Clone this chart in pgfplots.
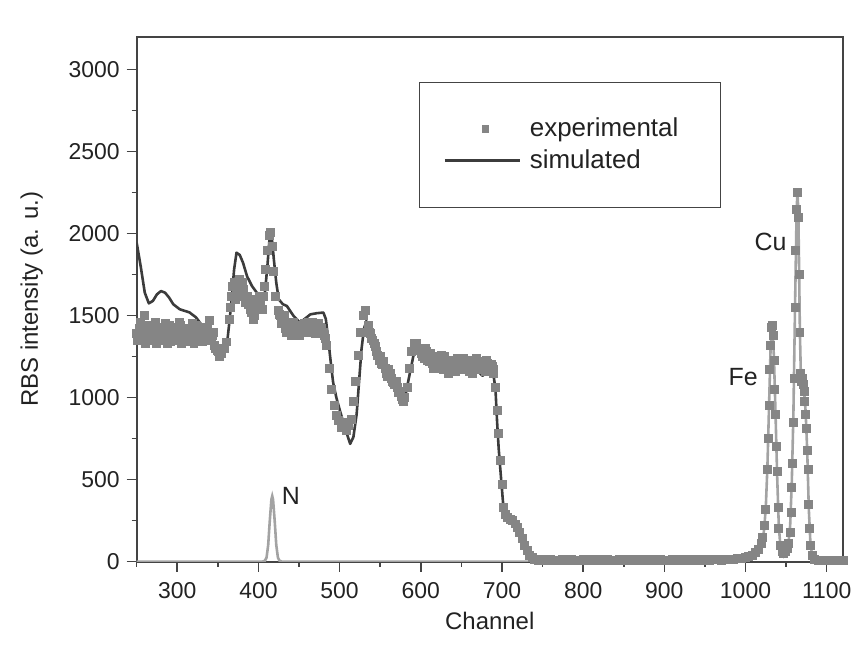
\documentclass[border=0pt]{standalone}
\usepackage{fontspec}
\setmainfont{Liberation Sans}
\usepackage{pgfplots}
\pgfplotsset{compat=1.18}
\definecolor{expc}{HTML}{858585}
\definecolor{simc}{HTML}{3C3C3C}
\definecolor{partc}{HTML}{A3A3A3}
\definecolor{framec}{HTML}{444444}
\definecolor{textc}{HTML}{222222}
\pgfplotsset{
  explegend/.style={legend image code/.code={\draw[##1, mark size=1.6pt] plot coordinates {(20.5pt,0pt)};}},
  simlegend/.style={legend image code/.code={\draw[##1] (0pt,0pt) -- (37.5pt,0pt);}},
}
\begin{document}
\begin{tikzpicture}
\begin{axis}[name=ax, width=354pt, height=263pt, scale only axis,
 xmin=250, xmax=1120, ymin=0, ymax=3200,
 xtick={300,400,...,1100}, minor xtick={250,350,...,1050},
 ytick={0,500,...,3000}, minor ytick={250,750,...,2750},
 tick align=outside, xtick pos=bottom, ytick pos=left,
 major tick length=5pt, minor tick length=2.5pt,
 axis line style={framec, line width=0.9pt},
 every tick/.style={framec, line width=0.8pt},
 tick label style={font=\fontsize{11.5}{13}\selectfont, text=textc},
 xticklabel shift=2pt,
 /pgf/number format/assume math mode=true, /pgf/number format/1000 sep={},
 xlabel={Channel}, ylabel={RBS intensity (a. u.)},
 label style={font=\fontsize{12}{14}\selectfont, text=textc},
 xlabel shift=0pt, ylabel shift=6pt,
 legend cell align=left,
 legend style={at={(rel axis cs:0.40,0.915)}, anchor=north west, draw=framec, fill=white,
   font=\fontsize{13}{15}\selectfont, text=textc, inner xsep=12pt, inner ysep=16.5pt, row sep=2pt,
   nodes={inner sep=1.5pt},
   /tikz/every odd column/.append style={column sep=3pt},
   /tikz/every even column/.append style={text width=82pt}},
]
\addplot[partc, line width=1.3pt, forget plot] coordinates {
(250,0) (405,0) (408,5) (410,25) (412,100) (414,250) (416,380) (417,400) (418,380) (420,250) (422,100) (424,25) (426,5) (429,0)
(980,0) (990,5) (1000,12) (1008,25) (1014,45) (1018,75) (1021,120) (1023,200) (1025,330) (1027,580) (1029,950) (1031,1320) (1033,1440) (1035,1250) (1037,900) (1039,520) (1041,220) (1043,90) (1045,40) (1047,30) (1049,40) (1051,70) (1053,120) (1055,220) (1057,480) (1059,900) (1061,1550) (1063,2150) (1064,2250) (1065,2150) (1066,1800) (1067,1400) (1068,1180) (1070,1100) (1072,1050) (1074,920) (1076,680) (1078,320) (1080,110) (1082,40) (1085,10) (1090,0) (1120,0)
};
\addplot[only marks, mark=square*, mark size=2pt, expc, mark options={draw=expc, fill=expc}, explegend] coordinates {
(250,1390) (253,1420) (256,1370) (259,1500) (262,1400) (265,1350) (268,1440) (271,1380) (274,1330) (277,1420)
(280,1400) (283,1360) (286,1450) (289,1390) (292,1340) (295,1410) (298,1430) (301,1370) (304,1440) (307,1400)
(310,1340) (313,1420) (316,1380) (319,1450) (322,1400) (325,1350) (328,1410) (331,1340) (334,1390) (337,1430)
(340,1470) (343,1380) (346,1320) (349,1290) (352,1250) (355,1270) (358,1300) (361,1340) (364,1480) (367,1620)
(370,1700) (373,1650) (376,1720) (379,1620) (382,1660) (385,1600) (388,1570) (391,1520) (394,1480) (397,1540)
(400,1590) (403,1570) (406,1620) (409,1780) (411,1900) (413,1990) (415,2010) (417,1920) (419,1770) (421,1620)
(424,1530) (427,1500) (430,1470) (433,1420) (436,1460) (439,1400) (442,1430) (445,1390) (448,1410) (451,1380)
(454,1420) (457,1450) (460,1400) (463,1430) (466,1460) (469,1420) (472,1440) (475,1400) (478,1420) (481,1380)
(484,1320) (487,1180) (490,1050) (493,950) (496,890) (499,860) (502,820) (505,850) (508,800) (511,830)
(514,870) (517,980) (520,1100) (523,1260) (526,1400) (529,1500) (532,1530) (535,1440) (538,1390) (541,1350)
(544,1310) (547,1260) (550,1250) (553,1200) (556,1180) (559,1130) (562,1150) (565,1100) (568,1080) (571,1060)
(574,1040) (577,990) (580,1000) (583,1060) (586,1180) (589,1280) (592,1330) (595,1330) (598,1300) (601,1270)
(604,1240) (607,1280) (610,1220) (613,1250) (616,1180) (619,1230) (622,1200) (625,1260) (628,1170) (631,1220)
(634,1150) (637,1200) (640,1230) (643,1160) (646,1210) (649,1190) (652,1240) (655,1170) (658,1200) (661,1230)
(664,1150) (667,1200) (670,1220) (673,1180) (676,1200) (679,1160) (682,1210) (685,1180) (688,1190) (690,1150)
(692,1060) (694,920) (696,780) (698,620) (700,470) (702,330) (704,290) (707,270) (710,260) (713,250)
(716,230) (719,210) (722,180) (725,140) (728,100) (731,70) (734,40) (737,25) (740,15) (745,10)
(750,12) (755,8) (760,14) (765,10) (770,6) (775,12) (780,9) (785,15) (790,10) (795,7)
(800,12) (805,10) (810,14) (815,8) (820,11) (825,9) (830,13) (835,10) (840,7) (845,12)
(850,10) (855,15) (860,9) (865,11) (870,8) (875,13) (880,10) (885,12) (890,9) (895,14)
(900,10) (905,8) (910,12) (915,10) (920,15) (925,9) (930,11) (935,8) (940,12) (945,10)
(950,13) (955,9) (960,11) (965,14) (970,10) (975,12) (980,15) (985,13) (990,18) (995,20)
(1000,25) (1004,30) (1008,40) (1012,55) (1016,75) (1019,110) (1021,150) (1023,220) (1025,320) (1027,560)
(1028,750) (1029,950) (1030,1170) (1031,1320) (1032,1430) (1033,1440) (1034,1380) (1035,1230) (1036,1050) (1037,900)
(1038,700) (1039,550) (1040,330) (1041,200) (1043,100) (1045,60) (1047,50) (1049,60) (1051,80) (1053,110)
(1055,180) (1056,300) (1057,450) (1058,600) (1059,850) (1060,1120) (1061,1550) (1062,1900) (1063,2150) (1064,2250)
(1065,2100) (1066,1750) (1067,1400) (1068,1150) (1069,1100) (1070,1120) (1071,1080) (1072,1040) (1073,980) (1074,900)
(1075,810) (1076,680) (1077,560) (1078,350) (1079,200) (1080,100) (1082,40) (1085,15) (1090,10) (1095,8)
(1100,10) (1105,9) (1110,10) (1115,8) (1120,10)
(251.5,1350) (254.5,1460) (257.5,1410) (260.5,1330) (263.5,1440) (266.5,1400) (269.5,1360) (272.5,1460) (275.5,1390) (278.5,1350)
(281.5,1430) (284.5,1400) (287.5,1330) (290.5,1440) (293.5,1380) (296.5,1350) (299.5,1400) (302.5,1460) (305.5,1330) (308.5,1420)
(311.5,1390) (314.5,1350) (317.5,1410) (320.5,1330) (323.5,1440) (326.5,1390) (329.5,1360) (332.5,1430) (335.5,1370) (338.5,1400)
(341.5,1350) (344.5,1400) (347.5,1300) (350.5,1280)
(365.5,1550) (368.5,1680) (371.5,1600) (374.5,1690) (377.5,1640) (380.5,1700) (383.5,1580) (386.5,1620) (389.5,1540) (392.5,1600)
(395.5,1500) (398.5,1560) (401.5,1620) (404.5,1540) (407.5,1680)
(425.5,1510) (428.5,1450) (431.5,1500) (434.5,1400) (437.5,1440) (440.5,1380) (443.5,1460) (446.5,1420) (449.5,1390) (452.5,1440)
(455.5,1400) (458.5,1420) (461.5,1460) (464.5,1400) (467.5,1440) (470.5,1390) (473.5,1450) (476.5,1430) (479.5,1400) (482.5,1360)
(536.5,1400) (539.5,1360) (542.5,1330) (545.5,1280) (548.5,1230) (551.5,1210) (554.5,1220) (557.5,1150) (560.5,1170) (563.5,1120)
(566.5,1090) (569.5,1100) (572.5,1030) (575.5,1010) (578.5,980)
(599.5,1290) (602.5,1250) (605.5,1300) (608.5,1230) (611.5,1270) (614.5,1210) (617.5,1250) (620.5,1180) (623.5,1230) (626.5,1200)
(629.5,1250) (632.5,1180) (635.5,1230) (638.5,1170) (641.5,1200) (644.5,1240) (647.5,1170) (650.5,1220) (653.5,1180) (656.5,1230)
(659.5,1160) (662.5,1210) (665.5,1180) (668.5,1240) (671.5,1170) (674.5,1210) (677.5,1190) (680.5,1230) (683.5,1160) (686.5,1200)
(689.5,1170)
};
\addlegendentry{experimental}
\addplot[simc, line width=1.3pt, line join=round, simlegend] coordinates {
(250,1945) (255,1800) (260,1640) (265,1575) (270,1590) (275,1630) (280,1650) (285,1640) (290,1610) (295,1570)
(303,1539) (315,1520) (323,1490) (331,1437) (338,1390) (344,1356) (350,1300) (355,1261) (358,1270) (361,1316)
(364,1450) (367,1600) (370,1780) (373,1884) (377,1870) (381,1823) (386,1740) (392,1681) (398,1640) (404,1620)
(408,1640) (411,1800) (414,1990) (415,2005) (417,1950) (419,1843) (422,1700) (425,1600) (430,1570) (435,1559)
(443,1500) (451,1458) (457,1480) (464,1508) (472,1515) (480,1519) (483,1480) (486,1356) (489,1220) (492,1093)
(496,1000) (501,910) (507,810) (513,718) (517,760) (521,900) (524,1100) (527,1296) (530,1420) (533,1468)
(537,1356) (543,1280) (548,1215) (555,1170) (562,1133) (570,1080) (576,1040) (581,1012) (587,1160) (593,1306)
(598,1280) (603,1255) (611,1225) (620,1204) (626,1220) (632,1204) (638,1175) (645,1154) (650,1160) (655,1154)
(660,1175) (665,1194) (670,1165) (676,1133) (680,1150) (684,1174) (688,1150) (690,1123) (692,1052) (694,852)
(696,687) (699,500) (702,320) (706,270) (712,250) (718,220) (722,180) (727,120) (732,60) (737,25)
(742,10) (750,5) (760,5)
};
\addlegendentry{simulated}
\node[font=\fontsize{12.5}{14}\selectfont, text=textc] at (axis cs:440,402) {N};
\node[font=\fontsize{12.5}{14}\selectfont, text=textc] at (axis cs:997,1126) {Fe};
\node[font=\fontsize{12.5}{14}\selectfont, text=textc] at (axis cs:1031,1948) {Cu};
\end{axis}
\path[use as bounding box] ([shift={(-68.5pt,-49.5pt)}]ax.south west) rectangle ([shift={(6.5pt,18.5pt)}]ax.north east);
\end{tikzpicture}
\end{document}
